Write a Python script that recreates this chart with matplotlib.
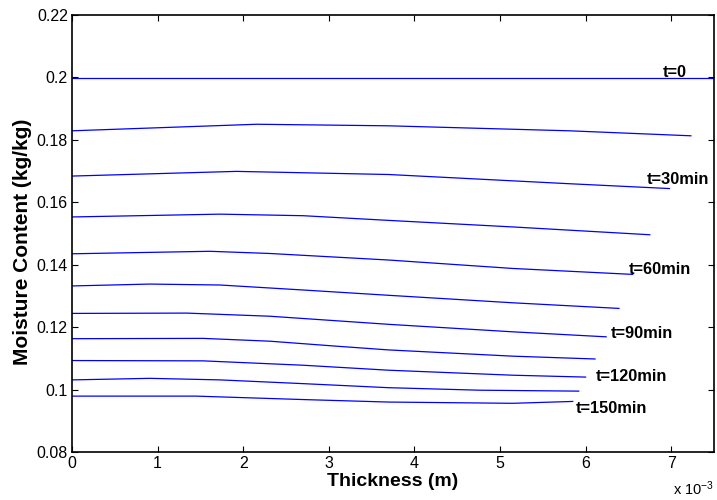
import numpy as np
import matplotlib as mpl
mpl.use('Agg')
import matplotlib.pyplot as plt

################################################################################

# thickness in units of 1e-3 m, moisture content in kg/kg
x_t0 = [0, 7.5]
y_t0 = [0.1997, 0.1997]

x_2 = [0, 2.16, 3.7, 5.81, 7.23]
y_2 = [0.1829, 0.1850, 0.1845, 0.1829, 0.1813]

x_30 = [0, 1.92, 3.7, 5.77, 6.98]
y_30 = [0.1684, 0.1699, 0.1689, 0.1660, 0.1644]

x_4 = [0, 1.73, 2.7, 3.7, 5.15, 6.75]
y_4 = [0.1553, 0.1562, 0.1557, 0.1542, 0.1521, 0.1496]

x_60 = [0, 1.61, 2.31, 3.7, 5.15, 6.55]
y_60 = [0.1435, 0.1443, 0.1436, 0.1415, 0.1388, 0.1369]

x_6 = [0, 0.91, 1.73, 2.7, 3.7, 5.15, 6.39]
y_6 = [0.1332, 0.1338, 0.1335, 0.1319, 0.1302, 0.1278, 0.1260]

x_90 = [0, 1.34, 2.31, 3.7, 5.15, 6.24]
y_90 = [0.1244, 0.1245, 0.1235, 0.1209, 0.1185, 0.1169]

x_8 = [0, 1.53, 2.31, 3.09, 3.7, 5.15, 6.11]
y_8 = [0.1163, 0.1164, 0.1155, 0.1139, 0.1127, 0.1107, 0.1098]

x_120 = [0, 1.53, 2.7, 3.7, 5.15, 6.0]
y_120 = [0.1093, 0.1092, 0.1078, 0.1062, 0.1046, 0.1040]

x_10 = [0, 0.91, 1.73, 2.7, 3.7, 4.76, 5.92]
y_10 = [0.1031, 0.1036, 0.1031, 0.1019, 0.1006, 0.0998, 0.0995]

x_150 = [0, 1.45, 2.7, 3.7, 5.15, 5.85]
y_150 = [0.0979, 0.0979, 0.0968, 0.0960, 0.0956, 0.0962]

curves = [(x_t0, y_t0), (x_2, y_2), (x_30, y_30), (x_4, y_4), (x_60, y_60),
          (x_6, y_6), (x_90, y_90), (x_8, y_8), (x_120, y_120),
          (x_10, y_10), (x_150, y_150)]

# curve labels and where they sit (thickness 1e-3 m, moisture)
label_text = ["t=0", "t=30min", "t=60min", "t=90min", "t=120min", "t=150min"]
label_x = [6.9, 6.72, 6.5, 6.29, 6.12, 5.89]
label_y = [0.2017, 0.1674, 0.1386, 0.1181, 0.1041, 0.0939]

x_ticks = [0, 1, 2, 3, 4, 5, 6, 7]
y_ticks = [0.08, 0.1, 0.12, 0.14, 0.16, 0.18, 0.2, 0.22]
y_tick_labels = ["0.08", "0.1", "0.12", "0.14", "0.16", "0.18", "0.2", "0.22"]

################################################################################

plt.rcParams['font.family'] = ['Liberation Sans', 'DejaVu Sans']
plt.rcParams['mathtext.default'] = 'regular'

fig = plt.figure(figsize=(7.17, 5), dpi=100)
ax = fig.add_axes([0.1004, 0.096, 0.8954, 0.874])

for xs, ys in curves:
    ax.plot(np.array(xs) * 1e-3, ys, color="#0000ff", lw=0.9)

for s, lx, ly in zip(label_text, label_x, label_y):
    ax.text(lx * 1e-3, ly, s, fontsize=11.8, fontweight="bold",
            ha="left", va="center")

ax.set_xlim(0, 7.5e-3)
ax.set_ylim(0.08, 0.22)
ax.set_xticks(np.array(x_ticks) * 1e-3)
ax.set_xticklabels([str(t) for t in x_ticks])
ax.set_yticks(y_ticks)
ax.set_yticklabels(y_tick_labels)

ax.tick_params(direction="in", top=True, right=True, length=4, width=0.8,
               labelsize=11.5, pad=3)
for sp in ax.spines.values():
    sp.set_linewidth(1.2)

ax.set_xlabel("Thickness (m)", fontsize=14, fontweight="bold", labelpad=1)
ax.set_ylabel("Moisture Content (kg/kg)", fontsize=15, fontweight="bold")
ax.yaxis.set_label_coords(-0.062, 0.48)

fig.text(0.938, 0.004, r"x 10$^{-3}$", fontsize=10.5, ha="left", va="bottom")

fig.savefig("out.png", dpi=100)
